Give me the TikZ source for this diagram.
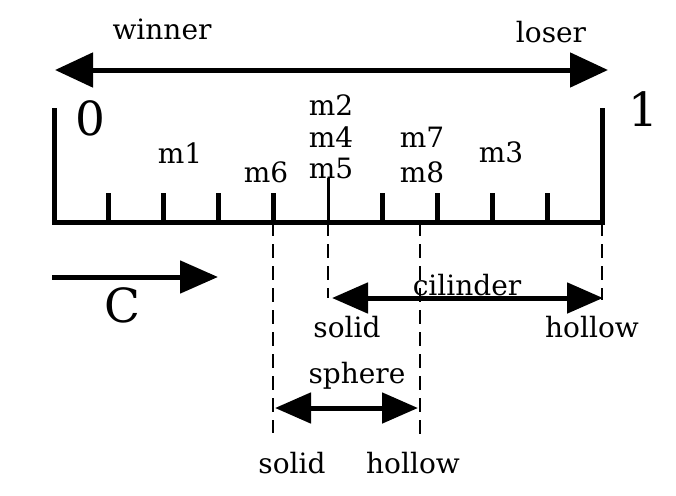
\documentclass[tikz,border=0pt]{standalone}
\usepackage{fontspec}
\setmainfont{DejaVu Serif}
\usetikzlibrary{arrows.meta}
\begin{document}
\begin{tikzpicture}[x=1pt,y=-1pt,
  lbl/.style={anchor=base,inner sep=0pt,font=\fontsize{28}{32}\selectfont},
  big/.style={anchor=base,inner sep=0pt,font=\fontsize{47}{50}\selectfont},
  axisline/.style={line width=5pt},
  tickline/.style={line width=5pt},
  dline/.style={line width=1.8pt,dash pattern=on 14pt off 8pt},
  arr/.style={line width=5pt},
  BigT/.tip={Triangle[length=38pt,width=34pt]},
  MidT/.tip={Triangle[length=36pt,width=30pt]}
]
\useasboundingbox[fill=white] (0,0) rectangle (676,495);

% winner / loser arrow
\coordinate (wl) at (55,70);
\coordinate (wr) at (608,70);
\draw[arr,{BigT}-{BigT}] (wl) -- (wr);
\node[lbl] (winner) at (162,40) {winner};
\node[lbl] (loser) at (551,43) {loser};

% axis
\coordinate (a0) at (54,222);
\coordinate (a1) at (602,222);
\coordinate (a0t) at (54,110);
\coordinate (a1t) at (602,110);
\draw[axisline,line cap=rect] (a0t) -- (a0) -- (a1) -- (a1t);
\foreach \i in {1,2,3,4,6,7,8,9} {
  \coordinate (tb\i) at ({54+54.8*\i},222);
  \coordinate (tt\i) at ({54+54.8*\i},193);
  \draw[tickline] (tb\i) -- (tt\i);
}
\coordinate (tb5) at (328,222);
\coordinate (tt5) at (328,178);
\draw[line width=3pt] (tb5) -- (tt5);

\node[big] (zero) at (90,135) {0};
\node[big] (one) at (643,126) {1};

% mode labels
\node[lbl] (m1) at (180,163) {m1};
\node[lbl] (m6) at (266,182) {m6};
\node[lbl] (m2) at (331,115) {m2};
\node[lbl] (m4) at (331,147) {m4};
\node[lbl] (m5) at (331,178) {m5};
\node[lbl] (m7) at (422,147) {m7};
\node[lbl] (m8) at (422,182) {m8};
\node[lbl] (m3) at (501,162) {m3};

% C arrow
\coordinate (cl) at (52,277);
\coordinate (cr) at (218,277);
\draw[arr,-{BigT[width=32pt]}] (cl) -- (cr);
\node[big] (C) at (122,322) {C};

% dashed guides
\coordinate (d1t) at (273,222); \coordinate (d1b) at (273,433);
\coordinate (d2t) at (328,222); \coordinate (d2b) at (328,298);
\coordinate (d3t) at (420,222); \coordinate (d3b) at (420,435);
\coordinate (d4t) at (602,222); \coordinate (d4b) at (602,300);
\draw[dline] (d1t) -- (d1b);
\draw[dline] (d2t) -- (d2b);
\draw[dline] (d3t) -- (d3b);
\draw[dline] (d4t) -- (d4b);

% cilinder arrow
\coordinate (cyl) at (332,298);
\coordinate (cyr) at (603,298);
\draw[arr,{MidT}-{MidT}] (cyl) -- (cyr);
\node[lbl] (cil) at (467,295) {cilinder};
\node[lbl] (cs) at (347,337) {solid};
\node[lbl] (ch) at (592,337) {hollow};

% sphere arrow
\coordinate (spl) at (275,408);
\coordinate (spr) at (418,408);
\draw[arr,{MidT}-{MidT}] (spl) -- (spr);
\node[lbl] (sph) at (357,383) {sphere};
\node[lbl] (ss) at (292,473) {solid};
\node[lbl] (sh) at (413,473) {hollow};
\end{tikzpicture}
\end{document}
